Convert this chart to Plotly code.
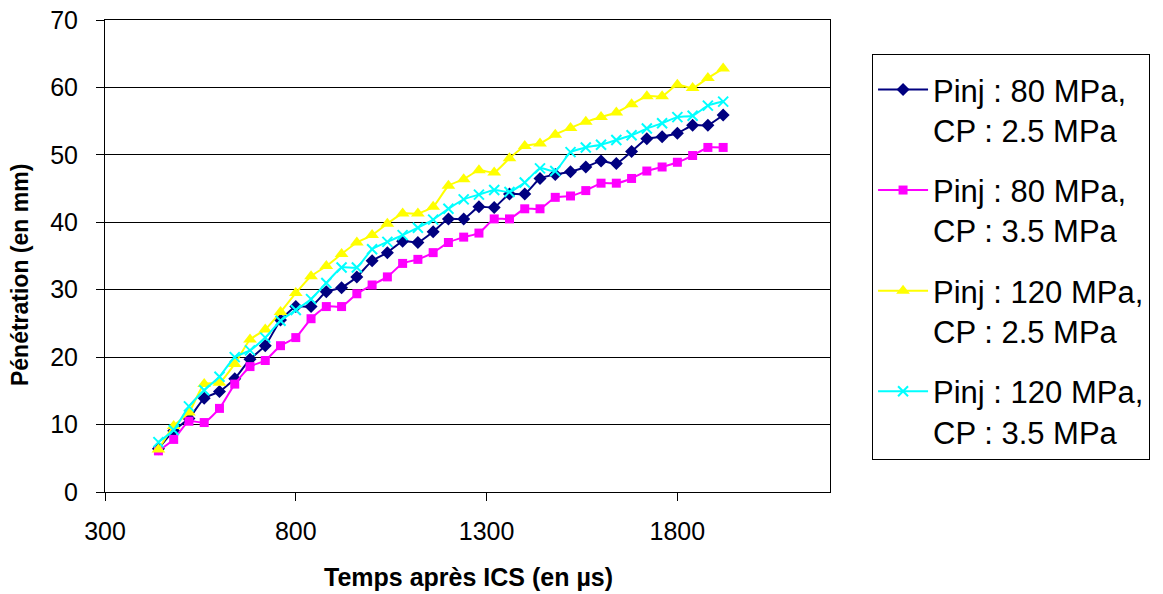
import plotly.graph_objects as go

# Time after ICS (µs): one frame every 40 µs
temps = [440 + 40 * i for i in range(38)]

p80_cp25 = [6.4, 9.1, 10.9, 13.9, 14.9, 16.8, 19.7, 21.7, 25.5, 27.5,
            27.5, 29.7, 30.3, 31.9, 34.3, 35.5, 37.2, 37.0, 38.6, 40.5,
            40.5, 42.3, 42.2, 44.2, 44.2, 46.5, 47.1, 47.5, 48.2, 49.1,
            48.7, 50.5, 52.4, 52.7, 53.2, 54.4, 54.4, 55.9]

p80_cp35 = [6.1, 7.8, 10.5, 10.3, 12.4, 16.0, 18.6, 19.5, 21.7, 22.9,
            25.7, 27.5, 27.5, 29.4, 30.7, 31.9, 33.9, 34.5, 35.5, 37.0,
            37.8, 38.4, 40.5, 40.5, 42.0, 42.0, 43.7, 43.9, 44.7, 45.8,
            45.8, 46.5, 47.6, 48.2, 48.9, 49.9, 51.1, 51.1]

p120_cp25 = [6.3, 9.8, 11.8, 16.0, 16.2, 19.0, 22.6, 24.1, 26.7, 29.5,
             32.0, 33.5, 35.3, 37.0, 38.1, 39.8, 41.3, 41.3, 42.3, 45.4,
             46.4, 47.7, 47.4, 49.5, 51.3, 51.7, 53.0, 54.0, 54.9, 55.6,
             56.3, 57.5, 58.7, 58.7, 60.4, 59.9, 61.4, 62.8]

p120_cp35 = [7.4, 9.2, 12.7, 15.1, 17.1, 20.0, 21.0, 22.9, 25.4, 27.0,
             28.6, 31.0, 33.3, 33.3, 36.0, 37.1, 38.1, 39.2, 40.4, 42.0,
             43.4, 44.1, 44.8, 44.5, 45.9, 48.0, 47.6, 50.4, 51.1, 51.5,
             52.2, 52.9, 53.9, 54.7, 55.6, 55.8, 57.3, 57.9]

series_names = ["Pinj : 80 MPa,<br>CP : 2.5 MPa",
                "Pinj : 80 MPa,<br>CP : 3.5 MPa",
                "Pinj : 120 MPa,<br>CP : 2.5 MPa",
                "Pinj : 120 MPa,<br>CP : 3.5 MPa"]
x_ticks = [300, 800, 1300, 1800]
y_ticks = [0, 10, 20, 30, 40, 50, 60, 70]
x_title = "Temps après ICS (en µs)"
y_title = "Pénétration (en mm)"

FONT = "Liberation Sans, Arial, sans-serif"

styles = [
    dict(color="#000080", symbol="diamond", size=10, mline=dict(width=0)),
    dict(color="#FF00FF", symbol="square", size=9, mline=dict(width=0)),
    dict(color="#FFFF00", symbol="triangle-up", size=12, mline=dict(width=0)),
    dict(color="#00FFFF", symbol="x-thin", size=10, mline=dict(width=2, color="#00FFFF")),
]

fig = go.Figure()
for name, ys, st in zip(series_names, [p80_cp25, p80_cp35, p120_cp25, p120_cp35], styles):
    fig.add_trace(go.Scatter(
        x=temps, y=ys, name=name, mode="lines+markers", legendgroup=name,
        line=dict(color=st["color"], width=2, shape="spline", smoothing=0.5),
        marker=dict(symbol=st["symbol"], size=st["size"], color=st["color"], line=st["mline"]),
    ))

fig.update_layout(
    width=1163, height=594,
    margin=dict(l=105, r=333, t=20, b=102),
    paper_bgcolor="white", plot_bgcolor="white",
    font=dict(family=FONT, color="black"),
    showlegend=True,
    legend=dict(
        x=1.058, y=0.928, xanchor="left", yanchor="top",
        bordercolor="black", borderwidth=1, bgcolor="white",
        font=dict(family=FONT, size=31, color="black"),
        tracegroupgap=17, itemwidth=50, valign="top",
        entrywidth=262, entrywidthmode="pixels",
        title=dict(text=" ", font=dict(size=6)),
    ),
    annotations=[
        dict(text="<b>" + x_title + "</b>", xref="paper", yref="paper",
             x=0.502, y=-0.18, xanchor="center", yanchor="middle", showarrow=False,
             font=dict(family=FONT, size=25, color="black")),
        dict(text="<b>" + y_title + "</b>", xref="paper", yref="paper",
             x=-0.117, y=0.46, xanchor="center", yanchor="middle", showarrow=False,
             textangle=-90, font=dict(family=FONT, size=23, color="black")),
    ],
)
fig.update_xaxes(
    range=[300, 2200], tickvals=x_ticks, ticktext=[str(v) for v in x_ticks],
    showgrid=False, zeroline=False, showline=True, linecolor="black", linewidth=1,
    mirror=True, ticks="outside", ticklen=8, tickcolor="black", automargin=False,
    tickfont=dict(family=FONT, size=25, color="black"), ticklabelstandoff=9,
)
fig.update_yaxes(
    range=[0, 70], tickvals=y_ticks, ticktext=[str(v) for v in y_ticks],
    showgrid=True, gridcolor="black", gridwidth=1, zeroline=False,
    showline=True, linecolor="black", linewidth=1, mirror=True,
    ticks="outside", ticklen=8, tickcolor="black", automargin=False,
    tickfont=dict(family=FONT, size=25, color="black"), ticklabelstandoff=13,
)

# remove the default 8px page margin so the figure sits at the window's corner
fig.write_html("out.html", config={"displayModeBar": False},
               post_script="document.body.style.margin='0';")
